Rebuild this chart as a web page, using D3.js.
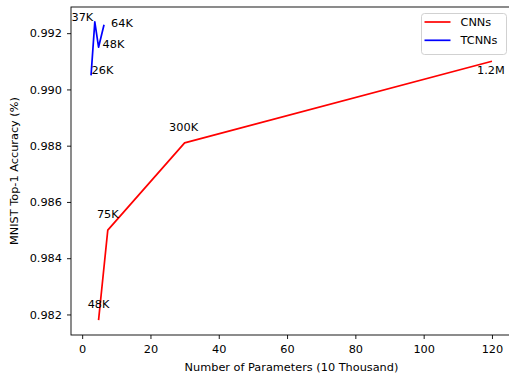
<!DOCTYPE html>
<html>
<head>
<meta charset="utf-8">
<script src="https://cdn.jsdelivr.net/npm/d3@7"></script>
<style>
  body { margin: 0; background: #fff; overflow: hidden; }
  svg text { font-family: "DejaVu Sans", sans-serif; fill: #000; }
</style>
</head>
<body>
<div id="chart"></div>
<script>
// Data (x in units of 10 thousand parameters)
const cnnParams = [4.8, 7.5, 30, 120];
const cnnAcc = [0.9818, 0.985, 0.9881, 0.991];
const cnnLabels = ["48K", "75K", "300K", "1.2M"];

const tcnnParams = [2.6, 3.7, 4.8, 6.4];
const tcnnAcc = [0.9905, 0.9924, 0.9915, 0.9923];
const tcnnLabels = ["26K", "37K", "48K", "64K"];

const xTicks = [0, 20, 40, 60, 80, 100, 120];
const yTicks = [0.982, 0.984, 0.986, 0.988, 0.990, 0.992];

// Label placement relative to each point (anchor, dx, dy)
const cnnLabelPos = [["middle", 0, -12], ["middle", 0, -12], ["middle", -1, -12], ["middle", -1, 13]];
const tcnnLabelPos = [["start", 0.5, -1], ["end", -1.5, -1], ["start", 4, 1], ["start", 7, 2]];

const width = 509, height = 374;
const plot = { left: 71, right: 512, top: 7, bottom: 335 };
const fontSize = 11.3;

const svg = d3.select("#chart").append("svg")
  .attr("width", width)
  .attr("height", height);

// Matplotlib-like 5% margins around the data
const allX = cnnParams.concat(tcnnParams);
const allY = cnnAcc.concat(tcnnAcc);
const [x0, x1] = d3.extent(allX);
const [y0, y1] = d3.extent(allY);
const padX = (x1 - x0) * 0.05, padY = (y1 - y0) * 0.05;

const xScale = d3.scaleLinear().domain([x0 - padX, x1 + padX]).range([plot.left, plot.right]);
const yScale = d3.scaleLinear().domain([y0 - padY, y1 + padY]).range([plot.bottom, plot.top]);

// Axes
const xAxis = svg.append("g")
  .attr("transform", `translate(0, ${plot.bottom})`)
  .call(d3.axisBottom(xScale).tickValues(xTicks).tickSize(4).tickPadding(6).tickSizeOuter(0));

const yAxis = svg.append("g")
  .attr("transform", `translate(${plot.left}, 0)`)
  .call(d3.axisLeft(yScale).tickValues(yTicks).tickFormat(d3.format(".3f")).tickSize(4).tickPadding(5).tickSizeOuter(0));

[xAxis, yAxis].forEach(g => {
  g.select(".domain").remove();
  g.selectAll(".tick line").attr("stroke", "#000").attr("stroke-width", 0.9);
  g.selectAll(".tick text").style("font-size", fontSize + "px").attr("fill", "#000");
});

// Frame
svg.append("rect")
  .attr("x", plot.left)
  .attr("y", plot.top)
  .attr("width", plot.right - plot.left)
  .attr("height", plot.bottom - plot.top)
  .attr("fill", "none")
  .attr("stroke", "#000")
  .attr("stroke-width", 0.9);

// Axis labels
svg.append("text")
  .attr("x", (plot.left + plot.right) / 2)
  .attr("y", 370.5)
  .attr("text-anchor", "middle")
  .style("font-size", fontSize + "px")
  .text("Number of Parameters (10 Thousand)");

svg.append("text")
  .attr("transform", `translate(18, ${(plot.top + plot.bottom) / 2}) rotate(-90)`)
  .attr("text-anchor", "middle")
  .style("font-size", fontSize + "px")
  .text("MNIST Top-1 Accuracy (%)");

// Lines
const line = d3.line().x(d => xScale(d[0])).y(d => yScale(d[1]));

const series = [
  { name: "CNNs", color: "#ff0000", xs: cnnParams, ys: cnnAcc, labels: cnnLabels, pos: cnnLabelPos },
  { name: "TCNNs", color: "#0000ff", xs: tcnnParams, ys: tcnnAcc, labels: tcnnLabels, pos: tcnnLabelPos }
];

series.forEach(s => {
  const pts = s.xs.map((x, i) => [x, s.ys[i]]);
  svg.append("path")
    .datum(pts)
    .attr("fill", "none")
    .attr("stroke", s.color)
    .attr("stroke-width", 1.7)
    .attr("stroke-linejoin", "round")
    .attr("d", line);

  // Point annotations
  pts.forEach((p, i) => {
    const [anchor, dx, dy] = s.pos[i];
    svg.append("text")
      .attr("x", xScale(p[0]) + dx)
      .attr("y", yScale(p[1]) + dy)
      .attr("text-anchor", anchor)
      .style("font-size", fontSize + "px")
      .text(s.labels[i]);
  });
});

// Legend
const legend = svg.append("g");
legend.append("rect")
  .attr("x", 421.5)
  .attr("y", 13.5)
  .attr("width", 85)
  .attr("height", 41)
  .attr("rx", 3)
  .attr("fill", "#fff")
  .attr("fill-opacity", 0.8)
  .attr("stroke", "#cccccc")
  .attr("stroke-width", 0.9);

series.forEach((s, i) => {
  const ly = 22 + i * 18.3;
  legend.append("line")
    .attr("x1", 424.5)
    .attr("x2", 450.5)
    .attr("y1", ly)
    .attr("y2", ly)
    .attr("stroke", s.color)
    .attr("stroke-width", 1.7);
  legend.append("text")
    .attr("x", 460.5)
    .attr("y", ly + 4)
    .style("font-size", fontSize + "px")
    .text(s.name);
});
</script>
</body>
</html>
